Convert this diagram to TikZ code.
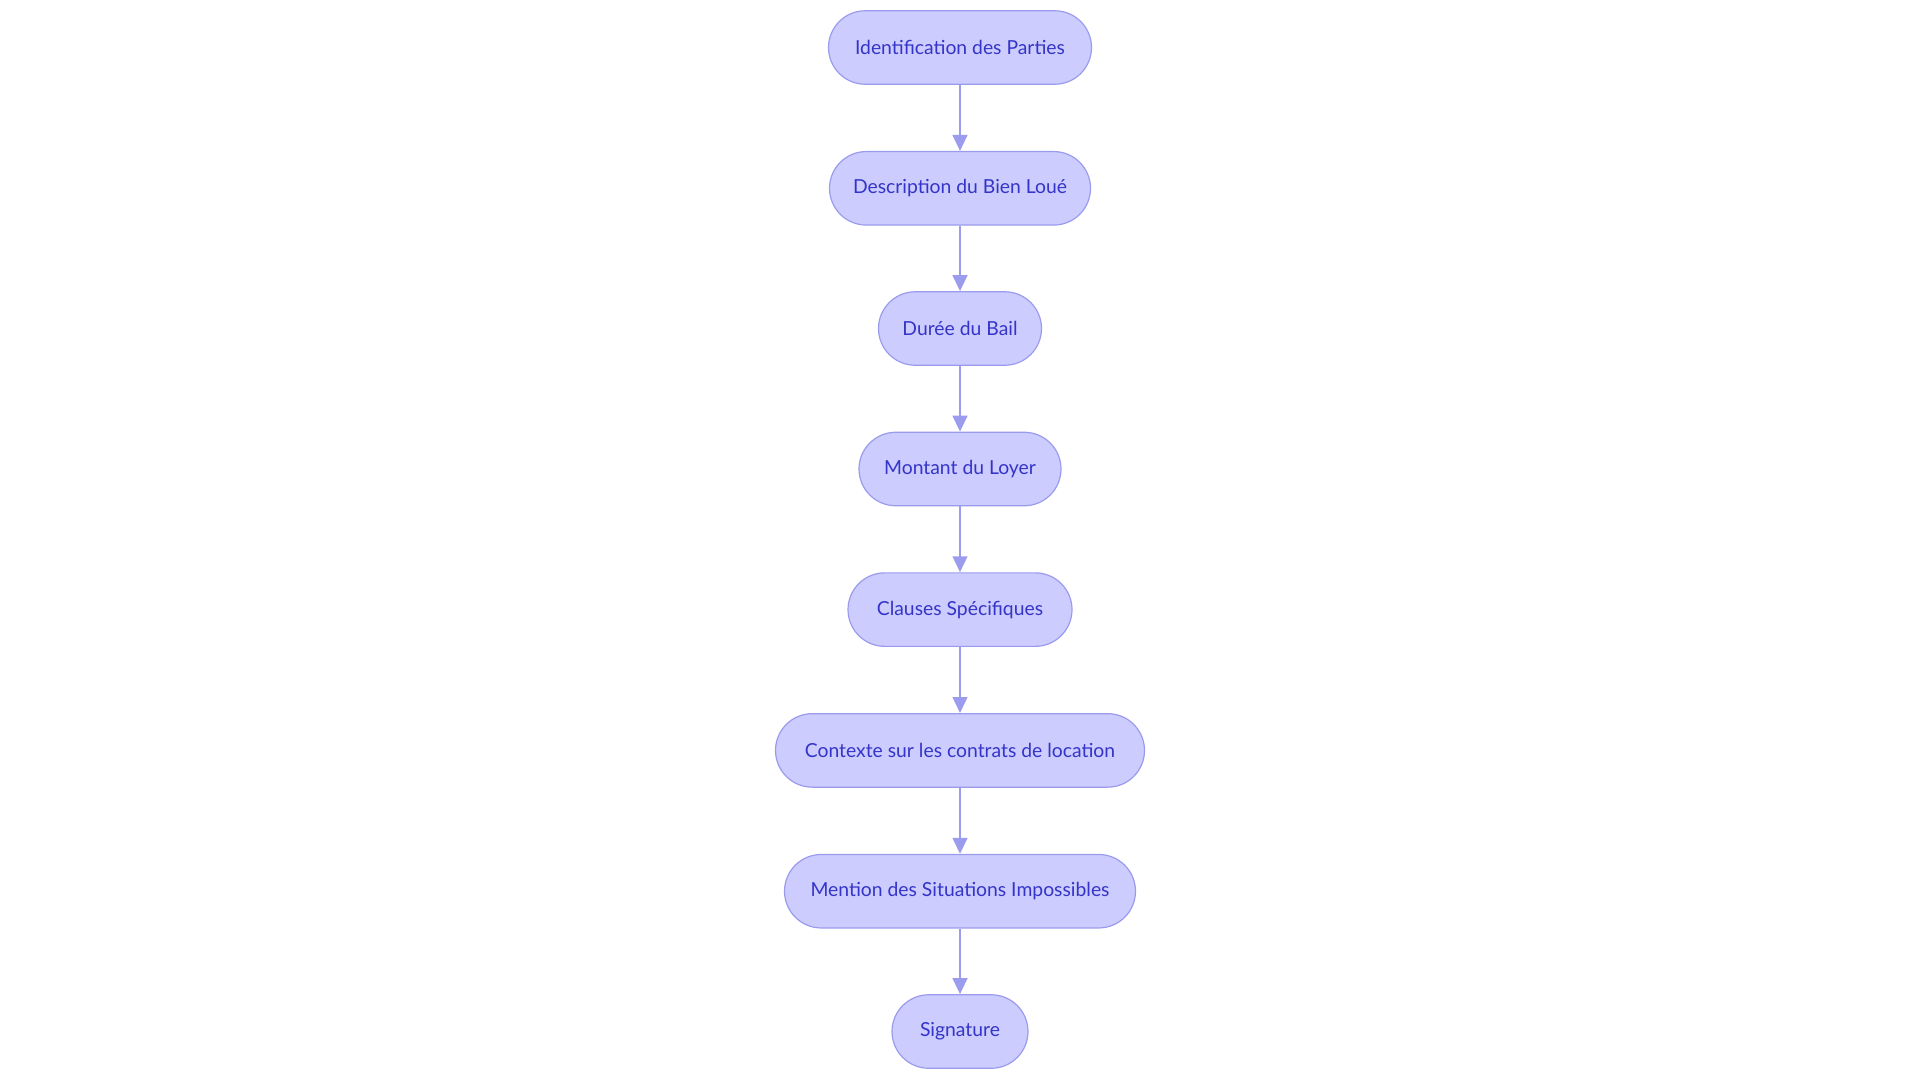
\documentclass[tikz,border=0pt]{standalone}
\usepackage{fontspec}
\setmainfont{Lato}
\usetikzlibrary{arrows.meta}
\definecolor{nfill}{HTML}{CCCCFF}
\definecolor{ndraw}{HTML}{9B9BEE}
\definecolor{ntext}{HTML}{3434C8}
\definecolor{lcol}{HTML}{9C9CEE}
\tikzset{
  box/.style={draw=ndraw, fill=nfill, text=ntext, rounded corners=36.75*0.75pt, minimum height=73.5*0.75pt, inner sep=0pt, font=\fontsize{14.5pt}{17pt}\selectfont, line width=0.9pt},
  conn/.style={draw=lcol, line width=1.8pt, -{Triangle[length=12pt,width=11pt]}}
}
\begin{document}
\begin{tikzpicture}[x=0.75pt,y=-0.75pt]
\useasboundingbox (0,0) rectangle (1920,1083);
\node[box, minimum width=263*0.75pt] (a) at (960,47.5) {Identification des Parties};
\node[box, minimum width=261*0.75pt] (b) at (960,188.3) {Description du Bien Loué};
\node[box, minimum width=163*0.75pt] (c) at (960,328.5) {Durée du Bail};
\node[box, minimum width=202*0.75pt] (d) at (960,469) {Montant du Loyer};
\node[box, minimum width=224*0.75pt] (e) at (960,609.6) {Clauses Spécifiques};
\node[box, minimum width=369*0.75pt] (f) at (960,750.4) {Contexte sur les contrats de location};
\node[box, minimum width=351*0.75pt] (g) at (960,891.2) {Mention des Situations Impossibles};
\node[box, minimum width=136*0.75pt] (h) at (960,1031.5) {Signature};
\foreach \u/\v in {a/b,b/c,c/d,d/e,e/f,f/g,g/h}{\draw[conn] (\u) -- (\v);}
\end{tikzpicture}
\end{document}
